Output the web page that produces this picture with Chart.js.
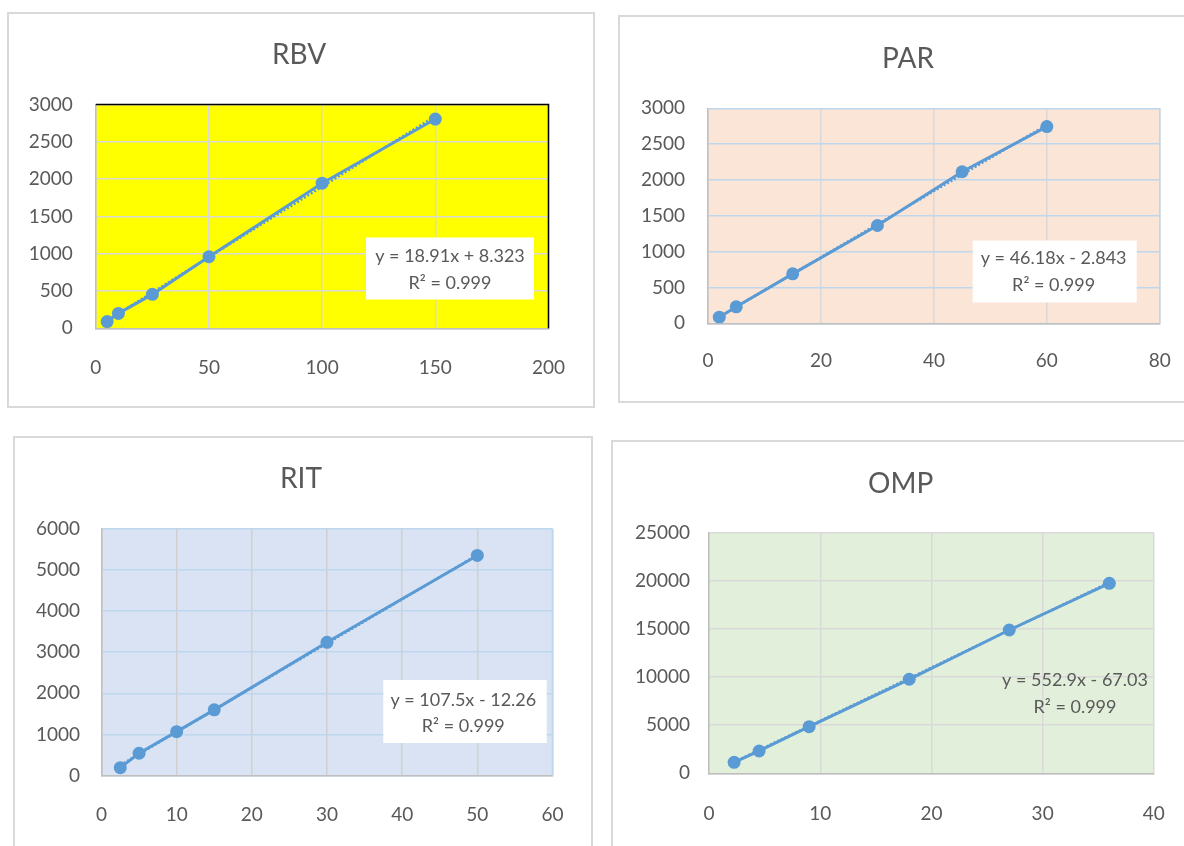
<!DOCTYPE html>
<html>
<head>
<meta charset="utf-8">
<title>Calibration curves</title>
<script src="https://cdn.jsdelivr.net/npm/chart.js@4/dist/chart.umd.min.js"></script>
<style>
  html, body { margin: 0; padding: 0; background: #fff; width: 1184px; height: 846px; overflow: hidden; }
  .panel { position: absolute; box-sizing: border-box; border: 2px solid #d9d9d9; background: #fff; overflow: hidden; }
  canvas { display: block; }
</style>
</head>
<body>
<div class="panel" style="left:7px;top:12px;width:588px;height:396px"><canvas id="c0" width="584" height="392"></canvas></div>
<div class="panel" style="left:618px;top:15px;width:600px;height:388px"><canvas id="c1" width="596" height="384"></canvas></div>
<div class="panel" style="left:13px;top:436px;width:580px;height:430px"><canvas id="c2" width="576" height="426"></canvas></div>
<div class="panel" style="left:611px;top:440px;width:600px;height:430px"><canvas id="c3" width="596" height="426"></canvas></div>
<script>
// ---- calibration data: concentration (x) vs. peak area (y) ----
const titles = ['RBV', 'PAR', 'RIT', 'OMP'];

const rbvConc = [5, 10, 25, 50, 100, 150];
const rbvArea = [90, 200, 455, 960, 1945, 2805];

const parConc = [2, 5, 15, 30, 45, 60];
const parArea = [85, 230, 690, 1365, 2115, 2745];

const ritConc = [2.5, 5, 10, 15, 30, 50];
const ritArea = [195, 545, 1070, 1600, 3240, 5350];

const ompConc = [2.25, 4.5, 9, 18, 27, 36];
const ompArea = [1145, 2320, 4840, 9770, 14890, 19740];

// linear fits printed on each chart
const fitSlope = [18.91, 46.18, 107.5, 552.9];
const fitIntercept = [8.323, -2.843, -12.26, -67.03];
const fitR2 = [0.999, 0.999, 0.999, 0.999];

// axis ranges
const xMax = [200, 80, 60, 40];
const xStep = [50, 20, 10, 10];
const yMax = [3000, 3000, 6000, 25000];
const yStep = [500, 500, 1000, 5000];

const concs = [rbvConc, parConc, ritConc, ompConc];
const areas = [rbvArea, parArea, ritArea, ompArea];

// ---- panel geometry and styling ----
const TITLE_SIZE = 28;
const TICK_SIZE = 19;
const NOTE_SIZE = 18;
const TEXT_COLOR = '#595959';
const SERIES_COLOR = '#5b9bd5';
const AXIS_COLOR = '#bfbfbf';

const panels = [
  { canvas: 'c0', W: 584, H: 392, area: [86.8, 90.5, 542.7, 314.3], titleX: 290, titleY: 41, yGap: 23, xGap: 28,
    plotBg: '#ffff00', hGrid: '#d9d9d9', vGrid: '#d9d9d9', frameTop: '#000000', frameRight: '#000000',
    note: { box: [357, 223.5, 168, 62], cx: 441, ys: [242, 269] } },
  { canvas: 'c1', W: 596, H: 384, area: [88, 91.3, 539.8, 306.3], titleX: 288, titleY: 41.5, yGap: 23, xGap: 26,
    plotBg: '#fbe5d6', hGrid: '#bdd7ee', vGrid: '#d9d9d9', frameTop: null, frameRight: '#bdd7ee',
    note: { box: [352.7, 223.5, 164, 62], cx: 433.6, ys: [241.5, 268] } },
  { canvas: 'c2', W: 576, H: 426, area: [86.5, 90.7, 539.8, 337.7], titleX: 286, titleY: 41, yGap: 21.5, xGap: 27.5,
    plotBg: '#dae3f3', hGrid: '#bdd7ee', vGrid: '#d0d0d0', frameTop: null, frameRight: '#bdd7ee',
    note: { box: [368.3, 242, 163.4, 63], cx: 448.3, ys: [262, 288.5] } },
  { canvas: 'c3', W: 596, H: 426, area: [96.1, 90.7, 540.8, 331.3], titleX: 287.6, titleY: 41.5, yGap: 19, xGap: 29,
    plotBg: '#e2efda', hGrid: '#d9d9d9', vGrid: '#d9d9d9', frameTop: null, frameRight: null,
    note: { box: null, cx: 462, ys: [238, 265] } }
];

// chart heading, centred over the whole panel
const headingPlugin = {
  id: 'heading',
  afterDraw(chart, args, opts) {
    const ctx = chart.ctx;
    ctx.save();
    ctx.fillStyle = TEXT_COLOR;
    ctx.font = TITLE_SIZE + 'px Lato';
    ctx.textAlign = 'center';
    ctx.textBaseline = 'middle';
    ctx.fillText(opts.text, opts.x, opts.y);
    ctx.restore();
  }
};

// fills the plot area and draws the outer frame edges of the plot
const plotAreaPlugin = {
  id: 'plotArea',
  beforeDraw(chart, args, opts) {
    const a = chart.chartArea, ctx = chart.ctx;
    ctx.save();
    ctx.fillStyle = opts.color;
    ctx.fillRect(a.left, a.top, a.right - a.left, a.bottom - a.top);
    ctx.restore();
  },
  beforeDatasetsDraw(chart, args, opts) {
    const a = chart.chartArea, ctx = chart.ctx;
    ctx.save();
    ctx.lineWidth = 1.5;
    if (opts.top) {
      ctx.strokeStyle = opts.top;
      ctx.beginPath(); ctx.moveTo(a.left, a.top); ctx.lineTo(a.right + 0.75, a.top); ctx.stroke();
    }
    if (opts.right) {
      ctx.strokeStyle = opts.right;
      ctx.beginPath(); ctx.moveTo(a.right, a.top); ctx.lineTo(a.right, a.bottom); ctx.stroke();
    }
    ctx.restore();
  }
};

// regression equation and R² text, optionally on a white box
const fitNotePlugin = {
  id: 'fitNote',
  afterDatasetsDraw(chart, args, opts) {
    const ctx = chart.ctx;
    ctx.save();
    if (opts.box) {
      ctx.fillStyle = '#ffffff';
      ctx.fillRect(opts.box[0], opts.box[1], opts.box[2], opts.box[3]);
    }
    ctx.fillStyle = TEXT_COLOR;
    ctx.font = NOTE_SIZE + 'px Lato';
    ctx.textAlign = 'center';
    ctx.textBaseline = 'middle';
    opts.lines.forEach((t, i) => ctx.fillText(t, opts.cx, opts.ys[i]));
    ctx.restore();
  }
};

Chart.defaults.font.family = 'Lato';
Chart.defaults.color = TEXT_COLOR;

panels.forEach((p, i) => {
  const [cl, ct, cr, cb] = p.area;
  // layout so that the plot area lands on p.area
  const padR = p.W - cr;
  const xAxisH = 60;
  const padB = p.H - cb - xAxisH;

  const points = concs[i].map((x, k) => ({ x: x, y: areas[i][k] }));
  const x0 = Math.min(...concs[i]), x1 = Math.max(...concs[i]);
  const trend = [x0, x1].map(x => ({ x: x, y: fitSlope[i] * x + fitIntercept[i] }));
  const b = fitIntercept[i];
  const eq = 'y = ' + fitSlope[i] + 'x ' + (b < 0 ? '- ' : '+ ') + Math.abs(b);
  const r2 = 'R\u00B2 = ' + fitR2[i];

  new Chart(document.getElementById(p.canvas), {
    type: 'scatter',
    data: {
      datasets: [
        { label: 'trend', data: trend, showLine: true, borderColor: SERIES_COLOR, borderWidth: 2.5,
          borderDash: [2, 2], pointRadius: 0, order: 0 },
        { label: titles[i], data: points, showLine: true, borderColor: SERIES_COLOR, backgroundColor: SERIES_COLOR,
          borderWidth: 3, pointRadius: 6.5, pointBorderWidth: 0, pointBackgroundColor: SERIES_COLOR, order: 1 }
      ]
    },
    options: {
      responsive: false,
      animation: false,
      devicePixelRatio: 1,
      events: [],
      layout: { padding: { left: 0, right: padR, top: ct, bottom: padB } },
      plugins: {
        legend: { display: false },
        tooltip: { enabled: false },
        title: { display: false },
        heading: { text: titles[i], x: p.titleX, y: p.titleY },
        plotArea: { color: p.plotBg, top: p.frameTop, right: p.frameRight },
        fitNote: { box: p.note.box, cx: p.note.cx, ys: p.note.ys, lines: [eq, r2] }
      },
      scales: {
        x: {
          type: 'linear', min: 0, max: xMax[i],
          grid: { color: p.vGrid, lineWidth: 1.5, drawTicks: false },
          border: { color: AXIS_COLOR, width: 1.5 },
          ticks: { stepSize: xStep[i], padding: p.xGap, color: TEXT_COLOR, maxRotation: 0,
                   font: { size: TICK_SIZE }, callback: v => String(v) },
          afterFit: s => { s.height = xAxisH; }
        },
        y: {
          type: 'linear', min: 0, max: yMax[i],
          grid: { color: p.hGrid, lineWidth: 1.5, drawTicks: false },
          border: { color: AXIS_COLOR, width: 1.5 },
          ticks: { stepSize: yStep[i], padding: p.yGap, color: TEXT_COLOR,
                   font: { size: TICK_SIZE }, callback: v => String(v) },
          afterFit: s => { s.width = cl; }
        }
      }
    },
    plugins: [plotAreaPlugin, fitNotePlugin, headingPlugin]
  });
});
</script>
</body>
</html>
